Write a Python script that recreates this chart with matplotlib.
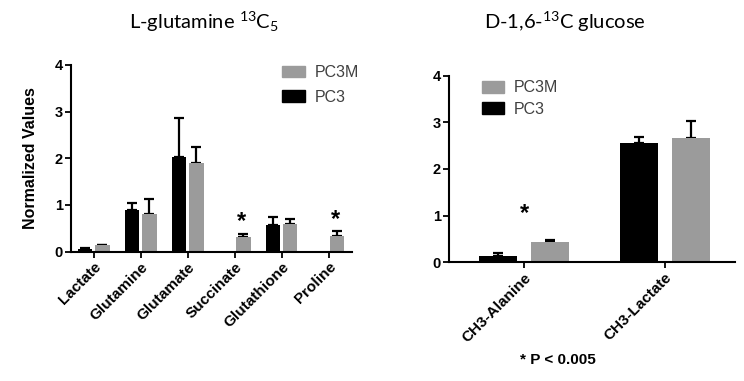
import matplotlib
matplotlib.use("Agg")
import matplotlib.pyplot as plt
import numpy as np
from matplotlib.patches import Patch

plt.rcParams['font.family'] = ['Liberation Sans', 'DejaVu Sans']
plt.rcParams['mathtext.fontset'] = 'custom'
plt.rcParams['mathtext.rm'] = 'Lato'

# Left panel data
left_cats = ["Lactate", "Glutamine", "Glutamate", "Succinate", "Glutathione", "Proline"]
left_pc3 = [0.05, 0.89, 2.02, np.nan, 0.57, np.nan]
left_pc3_err = [0.03, 0.16, 0.84, np.nan, 0.18, np.nan]
left_pc3m = [0.13, 0.80, 1.89, 0.32, 0.59, 0.34]
left_pc3m_err = [0.02, 0.32, 0.36, 0.05, 0.10, 0.11]
left_star_idx = [3, 5]
left_star_y = [0.64, 0.69]

# Right panel data
right_cats = ["CH3-Alanine", "CH3-Lactate"]
right_pc3 = [0.14, 2.55]
right_pc3_err = [0.05, 0.14]
right_pc3m = [0.435, 2.67]
right_pc3m_err = [0.035, 0.36]
right_star_idx = [0]
right_star_y = [1.05]

yticks = [0, 1, 2, 3, 4]
BLACK = '#000000'
GRAY = '#9b9b9b'

fig = plt.figure(figsize=(7.44, 3.81), dpi=100)

def style_axes(ax, cats, xlim):
    ax.set_xlim(*xlim)
    ax.set_ylim(0, 4)
    ax.set_yticks(yticks)
    ax.set_yticklabels([str(t) for t in yticks], fontweight='bold', fontsize=10.5)
    ax.set_xticks(np.arange(len(cats)))
    ax.set_xticklabels(cats, rotation=45, ha='right', rotation_mode='anchor',
                       fontweight='bold', fontsize=11)
    for s in ['top', 'right']:
        ax.spines[s].set_visible(False)
    for s in ['left', 'bottom']:
        ax.spines[s].set_linewidth(1.5)
    ax.tick_params(axis='both', direction='out', width=1.3, length=4, pad=2)

def draw_bars(ax, pc3, pc3e, pc3m, pc3me, off, w):
    x = np.arange(len(pc3))
    ax.bar(x - off, pc3, width=w, color=BLACK, zorder=2)
    ax.bar(x + off, pc3m, width=w, color=GRAY, zorder=2)
    for xi, v, e in zip(x - off, pc3, pc3e):
        if not np.isnan(v):
            ax.errorbar(xi, v, yerr=[[0], [e]], fmt='none', ecolor=BLACK,
                        elinewidth=1.6, capsize=3.5, capthick=1.6, zorder=1)
    for xi, v, e in zip(x + off, pc3m, pc3me):
        if not np.isnan(v):
            ax.errorbar(xi, v, yerr=[[0], [e]], fmt='none', ecolor=BLACK,
                        elinewidth=1.6, capsize=3.5, capthick=1.6, zorder=1)

# Left axes
axL = fig.add_axes([71/744, 1-251.5/381, (352-71)/744, (251.5-65)/381])
draw_bars(axL, left_pc3, left_pc3_err, left_pc3m, left_pc3m_err, 0.19, 0.3)
style_axes(axL, left_cats, (-0.48, 5.5))
for i, y in zip(left_star_idx, left_star_y):
    axL.text(i + 0.15, y, '*', ha='center', va='center', fontsize=17, fontweight='bold')
axL.set_ylabel('Normalized Values', fontweight='bold', fontsize=11.5, labelpad=12)

handles = [Patch(color=GRAY, label='PC3M'), Patch(color=BLACK, label='PC3')]
axL.legend(handles=handles, loc='upper left', bbox_to_anchor=(0.752, 1.0),
           frameon=False, fontsize=11.5, handlelength=1.4, handleheight=0.7,
           handletextpad=0.6, labelspacing=0.6, borderaxespad=0, borderpad=0,
           labelcolor='#404040')

# Right axes
axR = fig.add_axes([449/744, 1-262.3/381, (735-449)/744, (262.3-75.7)/381])
draw_bars(axR, right_pc3, right_pc3_err, right_pc3m, right_pc3m_err, 0.185, 0.27)
style_axes(axR, right_cats, (-0.534, 1.5))
for i, y in zip(right_star_idx, right_star_y):
    axR.text(i, y, '*', ha='center', va='center', fontsize=17, fontweight='bold')
axR.legend(handles=handles, loc='upper left', bbox_to_anchor=(0.115, 0.975),
           frameon=False, fontsize=11.5, handlelength=1.4, handleheight=0.75,
           handletextpad=0.6, labelspacing=0.4, borderaxespad=0, borderpad=0,
           labelcolor='#404040')

fig.text(204/744, 1-22/381, r'L-glutamine $\mathregular{^{13}C_5}$', ha='center', va='center',
         fontsize=14.5, family='Lato')
fig.text(565/744, 1-22/381, r'D-1,6-$\mathregular{^{13}}$C glucose', ha='center', va='center',
         fontsize=14.5, family='Lato')
fig.text(558/744, 1-360/381, '* P < 0.005', ha='center', va='center',
         fontsize=11, fontweight='bold')

fig.savefig('out.png', dpi=100)
